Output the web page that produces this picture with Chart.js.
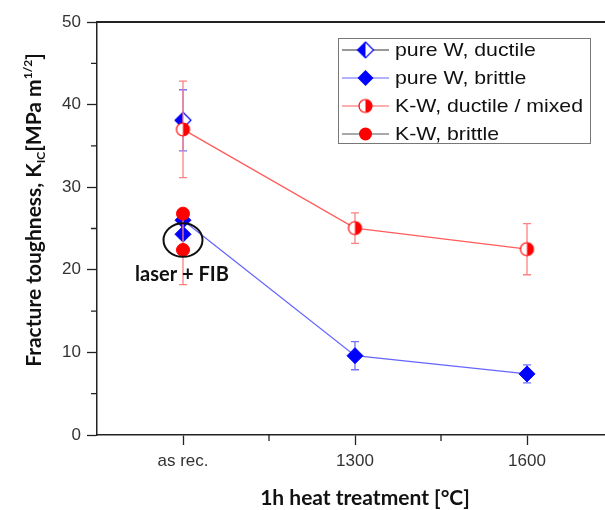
<!DOCTYPE html>
<html>
<head>
<meta charset="utf-8">
<script src="https://cdn.jsdelivr.net/npm/chart.js@4.4.1/dist/chart.umd.min.js"></script>
<style>
  html, body { margin: 0; padding: 0; background: #fff; overflow: hidden; }
  #wrap { position: relative; width: 605px; height: 510px; overflow: hidden; }
</style>
</head>
<body>
<div id="wrap"><canvas id="kicChart" width="625" height="510"></canvas></div>
<script>
// --- data ---
const categories = ['as rec.', '1300', '1600'];
const yTicks = [0, 10, 20, 30, 40, 50];
const yMinorTicks = [5, 15, 25, 35, 45];

// pure W
const pureWDuctile = [38.1];
const pureWDuctileErr = [3.7];
const pureWBrittle = [26.0, 9.6, 7.4];
const pureWBrittleErr = [0, 1.7, 1.1];
const pureWBrittleFib = [24.3];

// K-doped W
const kwDuctile = [37.0, 25.05, 22.5];
const kwDuctileErr = [5.85, 1.85, 3.1];
const kwBrittle = [26.8];
const kwBrittleFib = [22.4];
const kwBrittleFibErr = [4.2];

const BLUE = '#0000ff';
const RED = '#ff0000';
const BLUE_LINE = '#6666ff';
const RED_LINE = '#ff5c5c';
const BLUE_ERR = '#7373ff';
const RED_ERR = '#ff8080';

const pts = (vals) => vals.map((v, i) => ({ x: categories[i], y: v }));

// --- half filled markers ---
function halfDiamond(r, color) {
  const s = Math.ceil(r * 2 + 4);
  const c = document.createElement('canvas');
  c.width = c.height = s;
  const g = c.getContext('2d');
  const m = s / 2;
  const path = () => {
    g.beginPath();
    g.moveTo(m, m - r); g.lineTo(m + r, m); g.lineTo(m, m + r); g.lineTo(m - r, m);
    g.closePath();
  };
  path(); g.fillStyle = '#fff'; g.fill();
  g.beginPath();
  g.moveTo(m, m - r); g.lineTo(m, m + r); g.lineTo(m - r, m); g.closePath();
  g.fillStyle = color; g.fill();
  path(); g.strokeStyle = color; g.lineWidth = 1.2; g.stroke();
  return c;
}

function halfCircle(r, color) {
  const s = Math.ceil(r * 2 + 4);
  const c = document.createElement('canvas');
  c.width = c.height = s;
  const g = c.getContext('2d');
  const m = s / 2;
  g.beginPath(); g.arc(m, m, r, 0, Math.PI * 2); g.fillStyle = '#fff'; g.fill();
  g.beginPath(); g.arc(m, m, r, -Math.PI / 2, Math.PI / 2); g.closePath();
  g.fillStyle = color; g.fill();
  g.beginPath(); g.arc(m, m, r, 0, Math.PI * 2); g.strokeStyle = color; g.lineWidth = 1.2; g.stroke();
  return c;
}

const diamondHalf = halfDiamond(8, BLUE);
const circleHalf = halfCircle(6.5, RED);

// --- error bars, drawn under each dataset's markers ---
const errorBarPlugin = {
  id: 'errorBars',
  beforeDatasetDraw(chart, args) {
    const ds = chart.data.datasets[args.index];
    if (!ds.errorBars) return;
    const { ctx } = chart;
    const y = chart.scales.y;
    ctx.save();
    ctx.strokeStyle = ds.errorColor;
    ctx.lineWidth = 1.3;
    args.meta.data.forEach((el, i) => {
      const e = ds.errorBars[i];
      if (!e) return;
      const v = ds.data[i].y;
      const yTop = y.getPixelForValue(v + e);
      const yBot = y.getPixelForValue(v - e);
      ctx.beginPath();
      ctx.moveTo(el.x, yTop); ctx.lineTo(el.x, yBot);
      ctx.moveTo(el.x - 4, yTop); ctx.lineTo(el.x + 4, yTop);
      ctx.moveTo(el.x - 4, yBot); ctx.lineTo(el.x + 4, yBot);
      ctx.stroke();
    });
    ctx.restore();
  }
};

// --- frame, minor ticks, titles, annotation, legend ---
function drawRich(ctx, parts, cx, cy) {
  let total = 0;
  parts.forEach(p => { ctx.font = p.font; p.w = ctx.measureText(p.t).width; total += p.w; });
  let x = cx - total / 2;
  parts.forEach(p => {
    ctx.font = p.font;
    ctx.fillText(p.t, x, cy + (p.dy || 0));
    x += p.w;
  });
}

const legendRows = [
  { label: 'pure W, ductile', line: '#333333', marker: 'halfDiamond' },
  { label: 'pure W, brittle', line: BLUE_LINE, marker: 'diamond' },
  { label: 'K-W, ductile / mixed', line: RED_LINE, marker: 'halfCircle' },
  { label: 'K-W, brittle', line: '#555555', marker: 'circle' }
];

const decorPlugin = {
  id: 'decor',
  afterDraw(chart) {
    const { ctx, chartArea: a, scales: { x, y } } = chart;
    ctx.save();

    // top frame line
    ctx.strokeStyle = '#222';
    ctx.lineWidth = 2;
    ctx.beginPath();
    ctx.moveTo(a.left, a.top); ctx.lineTo(a.right, a.top);
    ctx.stroke();

    // minor ticks
    ctx.lineWidth = 1.3;
    ctx.beginPath();
    yMinorTicks.forEach(v => {
      const py = y.getPixelForValue(v);
      ctx.moveTo(a.left - 6, py); ctx.lineTo(a.left, py);
    });
    for (let i = 0; i < categories.length - 1; i++) {
      const px = (x.getPixelForValue(i) + x.getPixelForValue(i + 1)) / 2;
      ctx.moveTo(px, a.bottom); ctx.lineTo(px, a.bottom + 6);
    }
    ctx.stroke();

    // ellipse around the laser + FIB points
    const cx = x.getPixelForValue(0);
    const cy = y.getPixelForValue(23.6);
    ctx.beginPath();
    ctx.ellipse(cx, cy, 19.5, 16.8, 0, 0, Math.PI * 2);
    ctx.strokeStyle = '#111';
    ctx.lineWidth = 2;
    ctx.stroke();

    ctx.fillStyle = '#111';
    ctx.textAlign = 'center';
    ctx.textBaseline = 'alphabetic';
    ctx.font = 'bold 20px Lato';
    ctx.fillText('laser + FIB', cx - 1, 281);

    // x axis title
    ctx.font = 'bold 21px Lato';
    ctx.fillText('1h heat treatment [°C]', 365, 505);

    // y axis title
    ctx.save();
    ctx.translate(41, 210);
    ctx.rotate(-Math.PI / 2);
    ctx.textAlign = 'left';
    drawRich(ctx, [
      { t: 'Fracture toughness, K', font: 'bold 21px Lato' },
      { t: 'IC', font: 'bold 12px Lato', dy: 4 },
      { t: '[MPa m', font: 'bold 21px Lato' },
      { t: '1/2', font: 'bold 12px Lato', dy: -9 },
      { t: ']', font: 'bold 21px Lato' }
    ], 0, 0);
    ctx.restore();

    // legend
    ctx.fillStyle = '#fff';
    ctx.fillRect(338.5, 38.5, 252, 105);
    ctx.strokeStyle = '#777';
    ctx.lineWidth = 1;
    ctx.strokeRect(338.5, 38.5, 252, 105);
    ctx.textAlign = 'left';
    ctx.textBaseline = 'middle';
    legendRows.forEach((row, i) => {
      const ry = 50 + i * 28;
      ctx.strokeStyle = row.line;
      ctx.lineWidth = 1.2;
      ctx.beginPath(); ctx.moveTo(342, ry); ctx.lineTo(389, ry); ctx.stroke();
      const mx = 365.5;
      if (row.marker === 'halfDiamond') {
        ctx.drawImage(diamondHalf, mx - diamondHalf.width / 2, ry - diamondHalf.height / 2);
      } else if (row.marker === 'halfCircle') {
        ctx.drawImage(circleHalf, mx - circleHalf.width / 2, ry - circleHalf.height / 2);
      } else if (row.marker === 'diamond') {
        ctx.fillStyle = BLUE;
        ctx.beginPath();
        ctx.moveTo(mx, ry - 8); ctx.lineTo(mx + 8, ry); ctx.lineTo(mx, ry + 8); ctx.lineTo(mx - 8, ry);
        ctx.closePath(); ctx.fill();
      } else {
        ctx.fillStyle = RED;
        ctx.beginPath(); ctx.arc(mx, ry, 6.5, 0, Math.PI * 2); ctx.fill();
      }
      // legend text is slightly wide in the original typesetting
      ctx.save();
      ctx.translate(395, ry + 1);
      ctx.scale(1.12, 1);
      ctx.font = '19px "Liberation Sans"';
      ctx.fillStyle = '#111';
      ctx.fillText(row.label, 0, 0);
      ctx.restore();
    });

    ctx.restore();
  }
};

const tickFont = { family: '"Liberation Sans", Arial, sans-serif', size: 17 };

new Chart(document.getElementById('kicChart'), {
  type: 'line',
  data: {
    datasets: [
      {
        label: 'pure W, ductile',
        data: pts(pureWDuctile),
        errorBars: pureWDuctileErr, errorColor: BLUE_ERR,
        showLine: false,
        pointStyle: diamondHalf,
        order: 2
      },
      {
        label: 'pure W, brittle',
        data: pts(pureWBrittle),
        errorBars: pureWBrittleErr, errorColor: BLUE_ERR,
        borderColor: BLUE_LINE, borderWidth: 1.3,
        pointStyle: 'rectRot', pointRadius: 8,
        pointBackgroundColor: BLUE, pointBorderColor: BLUE, pointBorderWidth: 1,
        order: 3
      },
      {
        label: 'pure W, brittle (laser + FIB)',
        data: pts(pureWBrittleFib),
        showLine: false,
        pointStyle: 'rectRot', pointRadius: 8,
        pointBackgroundColor: BLUE, pointBorderColor: BLUE, pointBorderWidth: 1,
        order: 3
      },
      {
        label: 'K-W, ductile / mixed',
        data: pts(kwDuctile),
        errorBars: kwDuctileErr, errorColor: RED_ERR,
        borderColor: RED_LINE, borderWidth: 1.3,
        pointStyle: circleHalf,
        order: 1
      },
      {
        label: 'K-W, brittle',
        data: pts(kwBrittle),
        showLine: false,
        pointStyle: 'circle', pointRadius: 6.5,
        pointBackgroundColor: RED, pointBorderColor: RED, pointBorderWidth: 1,
        order: 0
      },
      {
        label: 'K-W, brittle (laser + FIB)',
        data: pts(kwBrittleFib),
        errorBars: kwBrittleFibErr, errorColor: RED_ERR,
        showLine: false,
        pointStyle: 'circle', pointRadius: 6.5,
        pointBackgroundColor: RED, pointBorderColor: RED, pointBorderWidth: 1,
        order: 0
      }
    ]
  },
  options: {
    responsive: false,
    animation: false,
    events: [],
    layout: { padding: { top: 22, right: 12, left: 0, bottom: 0 } },
    plugins: {
      legend: { display: false },
      tooltip: { enabled: false }
    },
    scales: {
      x: {
        type: 'category',
        labels: categories,
        offset: true,
        grid: { offset: false, drawOnChartArea: false, tickLength: 10, tickColor: '#222', tickWidth: 1.3 },
        border: { color: '#222', width: 1.5 },
        ticks: { font: tickFont, color: '#333', padding: 6, maxRotation: 0 },
        afterFit(scale) { scale.height = 75; }
      },
      y: {
        min: 0, max: 50,
        afterBuildTicks(scale) { scale.ticks = yTicks.map(v => ({ value: v })); },
        grid: { drawOnChartArea: false, tickLength: 10, tickColor: '#222', tickWidth: 1.3 },
        border: { color: '#222', width: 1.5 },
        ticks: { font: tickFont, color: '#333', padding: 6 },
        afterFit(scale) { scale.width = 97; }
      }
    }
  },
  plugins: [errorBarPlugin, decorPlugin]
});
</script>
</body>
</html>
